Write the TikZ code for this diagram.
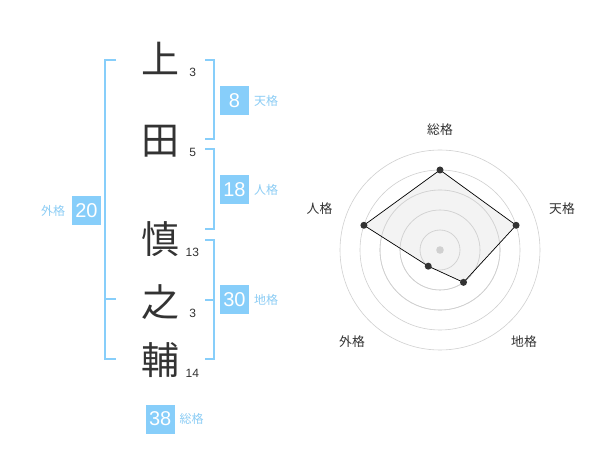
\documentclass[tikz,border=0pt]{standalone}
\usepackage{fontspec}
\setmainfont{Liberation Sans}
\newfontfamily\jpfont{Noto Sans CJK JP}
\definecolor{skyb}{RGB}{135,206,250}
\definecolor{skylab}{RGB}{140,205,245}
\definecolor{ink}{RGB}{51,51,51}
\definecolor{ringc}{RGB}{208,208,208}
\definecolor{polyfill}{RGB}{240,240,240}
\tikzset{
  kanji/.style={inner sep=0pt, text=ink, font=\jpfont\fontsize{38}{38}\selectfont},
  strokes/.style={inner sep=0pt, text=ink, font=\fontsize{12}{12}\selectfont},
  valbox/.style={fill=skyb, text=white, minimum size=29pt, inner sep=0pt, font=\fontsize{20}{20}\selectfont},
  vallab/.style={inner sep=0pt, text=skylab, font=\jpfont\fontsize{12}{12}\selectfont},
  brk/.style={draw=skyb, line width=2pt},
  ring/.style={draw=ringc, line width=0.6pt},
  axlab/.style={inner sep=0pt, text=ink, font=\jpfont\fontsize{12.8}{12.8}\selectfont},
  dot/.style={circle, fill=ink, inner sep=0pt, minimum size=7pt},
}
\begin{document}
\begin{tikzpicture}[x=1pt,y=-1pt]
\useasboundingbox (0,0) rectangle (600,470);
\fill[white] (0,0) rectangle (600,470);
% name characters
\node[kanji] (k1) at (160,58) {上};
\node[kanji] (k2) at (160,141) {田};
\node[kanji] (k3) at (160,239) {慎};
\node[kanji] (k4) at (160,302) {之};
\node[kanji] (k5) at (160,360) {輔};
% stroke counts
\node[strokes] (s1) at (192.7,72.7) {3};
\node[strokes] (s2) at (192.7,152.7) {5};
\node[strokes] (s3) at (192.3,252.3) {13};
\node[strokes] (s4) at (192.7,313.3) {3};
\node[strokes] (s5) at (192.3,373.3) {14};
% brackets
\draw[brk] (116,60) -- (105,60) -- (105,359) -- (116,359);
\draw[brk] (105,299.5) -- (116,299.5);
\draw[brk] (205,60) -- (214,60) -- (214,139) -- (205,139);
\draw[brk] (205,149) -- (214,149) -- (214,229.5) -- (205,229.5);
\draw[brk] (205,240) -- (214,240) -- (214,359.5) -- (205,359.5);
\draw[brk] (205,300) -- (214,300);
% value boxes
\node[valbox] (b1) at (234.5,100.5) {8};
\node[vallab] (l1) at (266,100.5) {天格};
\node[valbox] (b2) at (234.5,190) {18};
\node[vallab] (l2) at (266,190) {人格};
\node[valbox] (b3) at (234.5,300) {30};
\node[vallab] (l3) at (266,300) {地格};
\node[valbox] (b4) at (86.5,210.5) {20};
\node[vallab] (l4) at (53,210.5) {外格};
\node[valbox] (b5) at (160.2,419) {38};
\node[vallab] (l5) at (191.7,419) {総格};
% radar chart
\coordinate (c) at (440,250);
\foreach \r in {20,40,60,80,100} \draw[ring] (c) circle[radius=\r];
\coordinate (pS) at (440,170);
\coordinate (pT) at (516.08,225.28);
\coordinate (pC) at (463.51,282.36);
\coordinate (pG) at (428.24,266.18);
\coordinate (pJ) at (363.92,225.28);
\fill[polyfill, opacity=0.8] (pS) -- (pT) -- (pC) -- (pG) -- (pJ) -- cycle;
\foreach \r in {20,40,60} \draw[ring] (c) circle[radius=\r];
\draw[black, line width=0.7pt] (pS) -- (pT) -- (pC) -- (pG) -- (pJ) -- cycle;
\fill[ringc] (c) circle[radius=3.8];
\foreach \p in {pS,pT,pC,pG,pJ} \node[dot] at (\p) {};
\node[axlab] (aS) at (440,130) {総格};
\node[axlab] (aT) at (562,209) {天格};
\node[axlab] (aJ) at (319.5,209) {人格};
\node[axlab] (aG) at (352,342) {外格};
\node[axlab] (aC) at (524,342) {地格};
\end{tikzpicture}
\end{document}
